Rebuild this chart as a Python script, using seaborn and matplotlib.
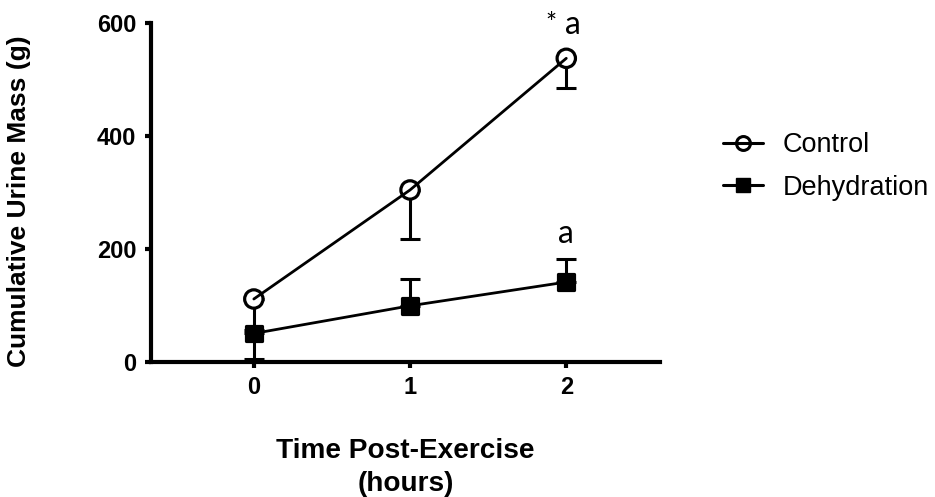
import matplotlib
matplotlib.use("Agg")
import matplotlib.pyplot as plt
from matplotlib.lines import Line2D
import numpy as np
import pandas as pd
import seaborn as sns

# Cumulative urine mass (g) after exercise, mean and SD per group
hours = [0, 1, 2]
control_mean = [111, 304, 537]
control_sd = [106, 87, 53]
dehydration_mean = [50, 99, 141]
dehydration_sd = [6, 47, 40]
groups = ["Control", "Dehydration"]

sns.set_theme(style="ticks")
plt.rcParams["font.family"] = ["Liberation Sans", "DejaVu Sans"]
plt.rcParams.update({
    "text.color": "black",
    "axes.labelcolor": "black",
    "xtick.color": "black",
    "ytick.color": "black",
})

df = pd.DataFrame({
    "hours": hours * 2,
    "mass": control_mean + dehydration_mean,
    "group": [groups[0]] * 3 + [groups[1]] * 3,
})

fig = plt.figure(figsize=(9.35, 4.97), dpi=100)
ax = fig.add_axes([0.1612, 0.2722, 0.7059 - 0.1612, 0.9543 - 0.2722])

# one-sided SD bars: Control downward, Dehydration upward
ax.errorbar(hours, control_mean, yerr=[control_sd, [0, 0, 0]], fmt="none",
            ecolor="black", elinewidth=2.2, capsize=7.4, capthick=2.2, zorder=2,
            clip_on=False)
ax.errorbar(hours, dehydration_mean, yerr=[[0, 0, 0], dehydration_sd], fmt="none",
            ecolor="black", elinewidth=2.2, capsize=7.4, capthick=2.2, zorder=2,
            clip_on=False)

# markers (white-filled circles hide the bar inside them), then lines on top
sns.scatterplot(data=df, x="hours", y="mass", style="group",
                markers={"Control": "o", "Dehydration": "s"},
                s=175, ax=ax, legend=False, zorder=3, clip_on=False,
                color="black")
scatter = ax.collections[-1]
is_control = [g == "Control" for g in df["group"]]
scatter.set_facecolors(["white" if c else "black" for c in is_control])
scatter.set_sizes([175 if c else 130 for c in is_control])
scatter.set_edgecolors("black")
scatter.set_linewidths(2.3)

sns.lineplot(data=df, x="hours", y="mass", units="group", estimator=None,
             color="black", linewidth=2, ax=ax, legend=False, zorder=4)

ax.set_xlim(-0.66, 2.6)
ax.set_ylim(0, 600)
ax.set_xticks(hours)
ax.set_yticks([0, 200, 400, 600])
for sp in ["top", "right"]:
    ax.spines[sp].set_visible(False)
for sp in ["left", "bottom"]:
    ax.spines[sp].set_linewidth(3)
    ax.spines[sp].set_color("black")
ax.tick_params(axis="both", direction="out", length=4.5, width=3, color="black",
               labelsize=17, pad=6)
for lab in ax.get_xticklabels() + ax.get_yticklabels():
    lab.set_fontweight("bold")

ax.set_xlabel("Time Post-Exercise\n(hours)", fontsize=20.2, fontweight="bold",
              linespacing=1.33)
ax.xaxis.set_label_coords(0.5, -0.226)
ax.xaxis.label.set_va("top")
ax.set_ylabel("Cumulative Urine Mass (g)", fontsize=19, fontweight="bold")
ax.yaxis.set_label_coords(-0.236, 0.474)

# significance markers
thin = ["Lato", "DejaVu Sans"]
ax.text(1.90, 597, "*", fontsize=19, ha="center", va="center", family=thin,
        color="black")
ax.text(2.04, 596, "a", fontsize=23, ha="center", va="center", family=thin,
        color="black")
ax.text(2.00, 226, "a", fontsize=23, ha="center", va="center", family=thin,
        color="black")

handles = [
    Line2D([], [], color="black", lw=2.2, marker="o", markersize=10,
           markerfacecolor="none", markeredgewidth=2.2),
    Line2D([], [], color="black", lw=2.2, marker="s", markersize=10,
           markerfacecolor="black"),
]
fig.legend(handles, groups, loc="center left", bbox_to_anchor=(0.747, 0.665),
           frameon=False, fontsize=19.5, handlelength=1.48, handletextpad=0.74,
           labelspacing=0.6)

fig.savefig("out.png", dpi=100, facecolor="white")
